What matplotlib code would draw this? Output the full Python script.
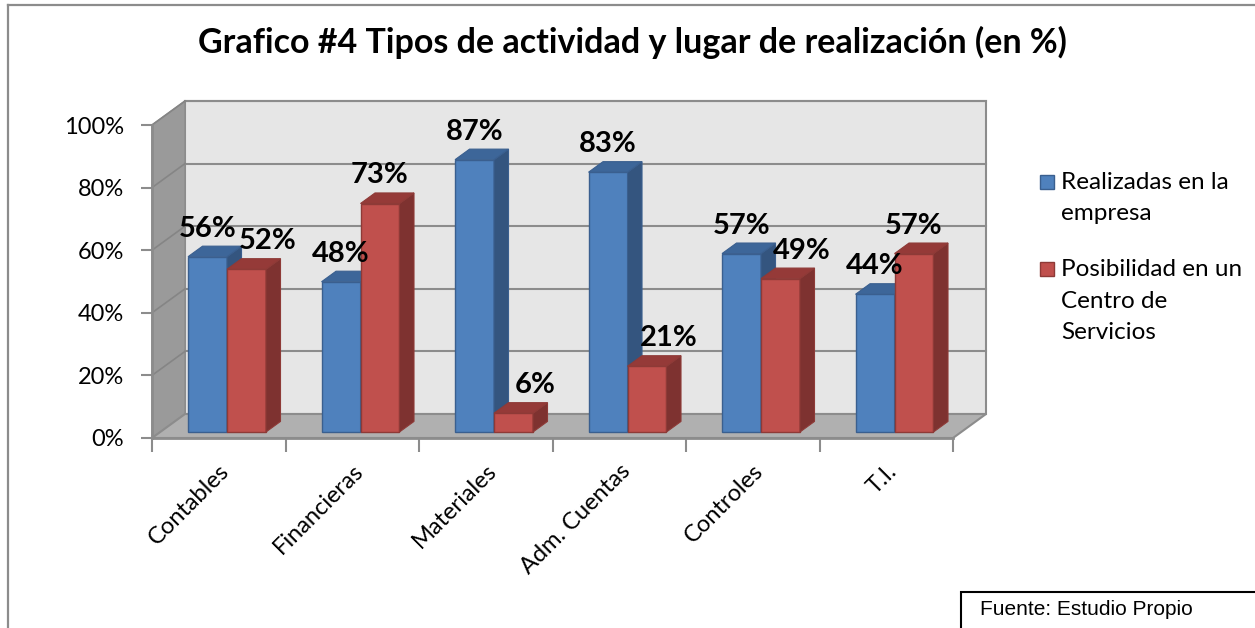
import matplotlib
matplotlib.use("Agg")
import matplotlib.pyplot as plt
from matplotlib.patches import Polygon, Rectangle
from matplotlib.lines import Line2D

# datos
categorias = ['Contables', 'Financieras', 'Materiales', 'Adm. Cuentas', 'Controles', 'T.I.']
realizadas = [56, 48, 87, 83, 57, 44]
posibilidad = [52, 73, 6, 21, 49, 57]
series = ['Realizadas en la\nempresa', 'Posibilidad en un\nCentro de\nServicios']
yticks = [0, 20, 40, 60, 80, 100]

titulo = 'Grafico #4 Tipos de actividad y lugar de realización (en %)'
fuente = 'Fuente: Estudio Propio'

# colores (cara frontal, lateral, superior, borde)
azul = ('#4F81BD', '#34557F', '#3D6699', '#3A5F8F')
rojo = ('#C0504D', '#7E3230', '#953A38', '#8E3A37')

plt.rcParams['font.family'] = ['Lato', 'DejaVu Sans']

W, H = 1255, 628
fig = plt.figure(figsize=(W / 100, H / 100), dpi=100)
ax = fig.add_axes([152 / W, (H - 438) / H, 801 / W, 313 / H])
ax.set_xlim(-0.5, 5.5)
ax.set_ylim(0, 100)
ax.patch.set_alpha(0)

# profundidad del "3D" en unidades de datos
DX = 33 / 133.5
DY = 24 / 3.13
f0, f1 = 0.25, 0.69
n = len(categorias)
gris = '#8C8C8C'

# pared del fondo
ax.add_patch(Rectangle((-0.5 + DX, DY), n, 100, fc='#E6E6E6', ec=gris, lw=1.5,
                       clip_on=False, zorder=1))
# pared lateral
ax.add_patch(Polygon([(-0.5, 0), (-0.5, 100), (-0.5 + DX, 100 + DY), (-0.5 + DX, DY)],
                     closed=True, fc='#9A9A9A', ec=gris, lw=1, clip_on=False, zorder=1))
# piso
ax.add_patch(Polygon([(-0.5, 0), (n - 0.5, 0), (n - 0.5 + DX, DY), (-0.5 + DX, DY)],
                     closed=True, fc='#B0B0B0', ec=gris, lw=1.5, clip_on=False, zorder=1))
for t in yticks[1:]:
    ax.add_line(Line2D([-0.5 + DX, n - 0.5 + DX], [t + DY, t + DY], color=gris, lw=1.5,
                       clip_on=False, zorder=2))
    ax.add_line(Line2D([-0.5, -0.5 + DX], [t, t + DY], color='#858585', lw=1.2,
                       clip_on=False, zorder=2))

bw = 0.292


def barra(x0, v, col):
    fx, fy = f0 * DX, f0 * DY
    bx, by = f1 * DX, f1 * DY
    x1 = x0 + bw
    ax.add_patch(Rectangle((x0 + fx, fy), bw, v, fc=col[0], ec=col[3], lw=1,
                           clip_on=False, zorder=3))
    ax.add_patch(Polygon([(x1 + fx, fy), (x1 + bx, by), (x1 + bx, v + by), (x1 + fx, v + fy)],
                         closed=True, fc=col[1], ec=col[3], lw=0.8, clip_on=False, zorder=3))
    ax.add_patch(Polygon([(x0 + fx, v + fy), (x1 + fx, v + fy), (x1 + bx, v + by), (x0 + bx, v + by)],
                         closed=True, fc=col[2], ec=col[3], lw=0.8, clip_on=False, zorder=3))


for i in range(n):
    barra(i - bw, realizadas[i], azul)
    barra(i, posibilidad[i], rojo)

# etiquetas de datos
for i in range(n):
    a, r = realizadas[i], posibilidad[i]
    ax.text(i - bw / 2 + f0 * DX, a + f0 * DY + 6.4, f'{a}%', ha='center', va='baseline',
            fontsize=21, fontweight='bold', zorder=5, clip_on=False)
    dx = 0.16 if r < a else 0
    ax.text(i + bw / 2 + f0 * DX + dx, r + f0 * DY + 6.4, f'{r}%', ha='center', va='baseline',
            fontsize=21, fontweight='bold', zorder=5, clip_on=False)

# ejes
for s in ['top', 'right']:
    ax.spines[s].set_visible(False)
for s in ['left', 'bottom']:
    ax.spines[s].set_color(gris)
    ax.spines[s].set_linewidth(2)
    ax.spines[s].set_zorder(4)
ax.set_yticks(yticks)
ax.set_yticklabels([f'{t}%' for t in yticks], fontsize=17)
ax.tick_params(axis='y', direction='out', length=8, width=1.5, color=gris, pad=12)
ax.set_xticks(range(n))
ax.set_xticklabels(categorias, rotation=45, ha='right', rotation_mode='anchor', fontsize=17)
ax.set_xticks([k - 0.5 for k in range(n + 1)], minor=True)
ax.tick_params(axis='x', which='major', length=0, pad=16)
ax.tick_params(axis='x', which='minor', direction='out', length=10, width=1.5, color=gris)
for lbl in ax.get_xticklabels():
    lbl.set_x(lbl.get_position()[0])

# titulo
fig.text(632.5 / W, (H - 53) / H, titulo, ha='center', va='baseline',
         fontsize=24.5, fontweight='bold')

# leyenda
leg_y = [189, 276]
for lab, col, yb in zip(series, [azul, rojo], leg_y):
    fig.patches.append(Rectangle((1040 / W, (H - yb) / H), 14 / W, 14 / H, fc=col[0],
                                 ec=col[3], lw=1, transform=fig.transFigure))
    for k, linea in enumerate(lab.split('\n')):
        fig.text(1061 / W, (H - yb - k * 31.5) / H, linea, ha='left', va='baseline',
                 fontsize=17.5)

# borde y fuente
fig.add_artist(Line2D([8 / W, 8 / W], [0, (H - 5) / H], color='#8C8C8C', lw=1.6))
fig.add_artist(Line2D([8 / W, 1], [(H - 5) / H, (H - 5) / H], color='#8C8C8C', lw=1.6))
fig.patches.append(Rectangle((961 / W, -0.05), 0.3, (H - 592) / H + 0.05, fc='white',
                             ec='black', lw=1.5, transform=fig.transFigure))
fig.text(980 / W, (H - 615) / H, fuente, ha='left', va='baseline', fontsize=15,
         family=['Liberation Sans', 'DejaVu Sans'])

fig.savefig('out.png', dpi=100)
